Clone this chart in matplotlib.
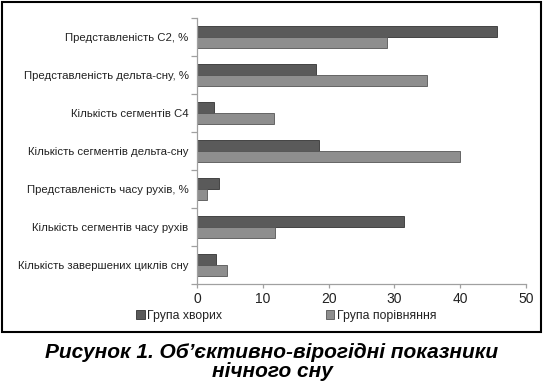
import numpy as np
import matplotlib.pyplot as plt
from matplotlib.patches import Rectangle

# indicators, top to bottom as on the chart
categories = [
    'Представленість С2, %',
    'Представленість дельта-сну, %',
    'Кількість сегментів С4',
    'Кількість сегментів дельта-сну',
    'Представленість часу рухів, %',
    'Кількість сегментів часу рухів',
    'Кількість завершених циклів сну',
]
patients = [45.6, 18.1, 2.6, 18.5, 3.3, 31.5, 2.9]
control = [28.8, 35.0, 11.7, 40.0, 1.5, 11.9, 4.5]
series_names = ['Група хворих', 'Група порівняння']
x_ticks = [0, 10, 20, 30, 40, 50]

plt.rcParams['font.family'] = ['Liberation Sans', 'DejaVu Sans']

fig = plt.figure(figsize=(5.44, 3.85), dpi=100)
ax = fig.add_axes([0.362, 0.2623, 0.605, 0.691])

y = np.arange(len(categories))
h = 0.29
ax.barh(y - h / 2, patients, height=h, color='#5a5a5a', edgecolor='#333333',
        linewidth=0.6, label=series_names[0])
ax.barh(y + h / 2, control, height=h, color='#8e8e8e', edgecolor='#555555',
        linewidth=0.6, label=series_names[1])

ax.set_ylim(len(categories) - 0.5, -0.5)
ax.set_xlim(0, 50)
ax.set_xticks(x_ticks)
ax.set_yticks(y)
ax.set_yticklabels(categories)
ax.set_yticks(np.arange(len(categories) + 1) - 0.5, minor=True)

for side in ['top', 'right']:
    ax.spines[side].set_visible(False)
for side in ['left', 'bottom']:
    ax.spines[side].set_color('#a0a0a0')
    ax.spines[side].set_linewidth(0.9)

ax.tick_params(axis='y', which='major', length=0, pad=6, labelsize=8.2, labelcolor='#222222')
ax.tick_params(axis='y', which='minor', length=4, color='#a0a0a0', width=0.9)
ax.tick_params(axis='x', length=3, color='#a0a0a0', width=0.9, labelsize=10,
               labelcolor='#222222', pad=3)

leg = fig.legend(loc='center', bbox_to_anchor=(0.526, 0.18), ncol=2, frameon=False,
                 fontsize=8.8, handlelength=0.7, handleheight=0.7, handletextpad=0.2,
                 columnspacing=8.5)
for t in leg.get_texts():
    t.set_color('#222222')

# frame around the chart
fig.patches.append(Rectangle((0.0037, 0.1377), 0.991, 0.857, transform=fig.transFigure,
                             fill=False, edgecolor='black', linewidth=1.5))

fig.text(0.5, 0.06, 'Рисунок 1. Об’єктивно-вірогідні показники\nнічного сну',
         ha='center', va='center', fontsize=15, fontweight='bold', fontstyle='italic',
         linespacing=0.95)

fig.savefig('out.png', dpi=100)
